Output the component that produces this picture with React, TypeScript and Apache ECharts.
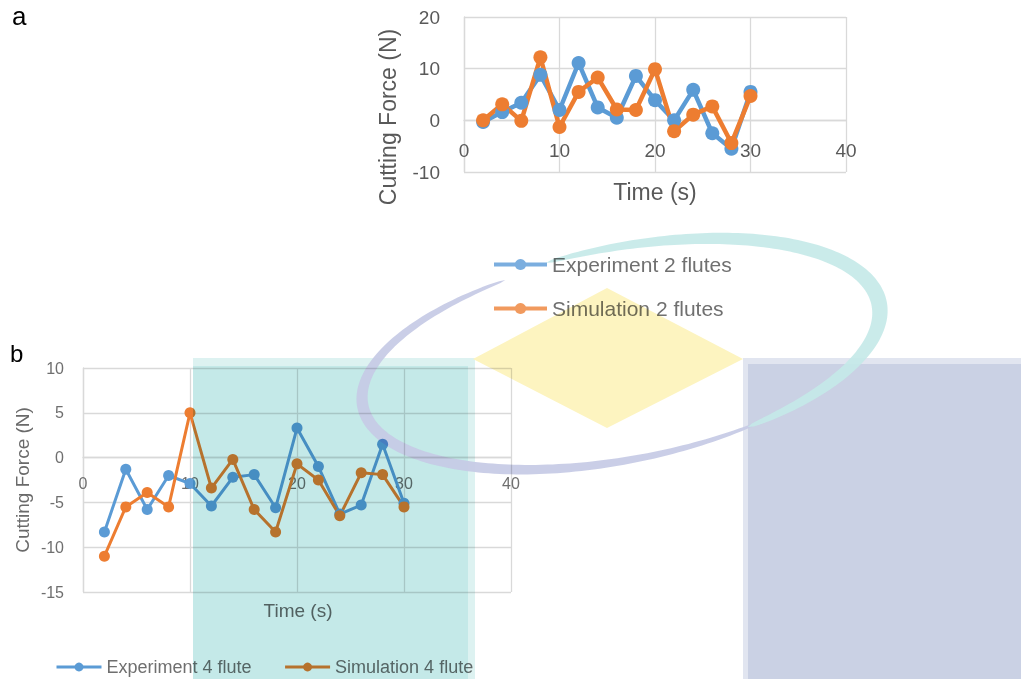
import React, { useEffect, useRef } from "react";
import * as echarts from "echarts";

// ---------- data ----------
const times = [2, 4, 6, 8, 10, 12, 14, 16, 18, 20, 22, 24, 26, 28, 30];
const exp2 = [-0.3, 1.6, 3.4, 8.8, 2.0, 11.1, 2.5, 0.5, 8.6, 3.9, 0, 5.9, -2.5, -5.5, 5.5];
const sim2 = [0, 3.1, -0.1, 12.2, -1.3, 5.5, 8.3, 2.1, 2.0, 9.9, -2.1, 1.1, 2.7, -4.4, 4.7];
const exp4 = [-8.3, -1.3, -5.8, -2.0, -2.9, -5.4, -2.2, -1.9, -5.6, 3.3, -1.0, -6.3, -5.3, 1.5, -5.1];
const sim4 = [-11.0, -5.5, -3.9, -5.5, 5.0, -3.4, -0.2, -5.8, -8.3, -0.7, -2.5, -6.5, -1.7, -1.9, -5.5];

const seriesNamesA = ["Experiment 2 flutes", "Simulation 2 flutes"];
const seriesNamesB = ["Experiment 4 flute", "Simulation 4 flute"];
const xRange = [0, 40, 10];
const yRangeA = [-10, 20, 10];
const yRangeB = [-15, 10, 5];
const yTitle = "Cutting Force (N)";
const xTitle = "Time (s)";

const FONT = "'Liberation Sans', Arial, sans-serif";
const BLUE = "#5B9BD5";
const ORANGE = "#ED7D31";
const GRID = "#D9D9D9";

const gridA = { left: 464, top: 17, width: 382, height: 155 };
const gridB = { left: 83, top: 368, width: 428, height: 224 };

const pairs = (ys: number[]) => times.map((t, i) => [t, ys[i]]);

// place the category (x) axis on the value 0 of the y axis (Excel style)
const zeroOffset = (range: number[], height: number) => (-height * (0 - range[0])) / (range[1] - range[0]);

function axisBase(fontSize: number, margin: number, color: string) {
  return {
    type: "value",
    axisLine: { show: true, onZero: false, lineStyle: { color: GRID, width: 1.3 } },
    axisTick: { show: false },
    axisLabel: { color, fontSize, margin, fontFamily: FONT },
    splitLine: { show: true, lineStyle: { color: GRID, width: 1.3 } },
  };
}

function lineSeries(name: string, ys: number[], color: string, idx: number, size: number, width: number) {
  return {
    name,
    type: "line",
    xAxisIndex: idx,
    yAxisIndex: idx,
    data: pairs(ys),
    symbol: "circle",
    symbolSize: size,
    showSymbol: true,
    lineStyle: { color, width },
    itemStyle: { color },
  };
}

const mainOption = {
  animation: false,
  grid: [gridA, gridB],
  xAxis: [
    {
      ...axisBase(19, 21, "#595959"),
      gridIndex: 0,
      position: "bottom",
      offset: zeroOffset(yRangeA, gridA.height),
      min: xRange[0],
      max: xRange[1],
      interval: xRange[2],
    },
    {
      ...axisBase(16, 18, "#6F6F6F"),
      gridIndex: 1,
      position: "bottom",
      offset: zeroOffset(yRangeB, gridB.height),
      min: xRange[0],
      max: xRange[1],
      interval: xRange[2],
    },
  ],
  yAxis: [
    { ...axisBase(19, 24, "#595959"), gridIndex: 0, min: yRangeA[0], max: yRangeA[1], interval: yRangeA[2] },
    { ...axisBase(16, 19, "#6F6F6F"), gridIndex: 1, min: yRangeB[0], max: yRangeB[1], interval: yRangeB[2] },
  ],
  legend: [
    {
      orient: "vertical",
      left: 487,
      top: 249,
      itemWidth: 53,
      itemHeight: 14,
      itemGap: 23,
      textStyle: { color: "#707070", fontSize: 21, lineHeight: 21, fontFamily: FONT },
      data: [
        { name: seriesNamesA[0], itemStyle: { color: "#7BAEDF" }, lineStyle: { color: "#7BAEDF", width: 4 } },
        { name: seriesNamesA[1], itemStyle: { color: "#F19A5E" }, lineStyle: { color: "#F19A5E", width: 4 } },
      ],
    },
    {
      orient: "horizontal",
      left: 50,
      top: 653,
      itemWidth: 45,
      itemHeight: 11,
      itemGap: 32,
      textStyle: { color: "#6F6F6F", fontSize: 18, lineHeight: 18, fontFamily: FONT },
      data: [
        { name: seriesNamesB[0], lineStyle: { width: 3 } },
        { name: seriesNamesB[1], lineStyle: { width: 3 } },
      ],
    },
  ],
  series: [
    lineSeries(seriesNamesA[0], exp2, BLUE, 0, 14, 4.5),
    lineSeries(seriesNamesA[1], sim2, ORANGE, 0, 14, 4.5),
    lineSeries(seriesNamesB[0], exp4, BLUE, 1, 11, 3),
    lineSeries(seriesNamesB[1], sim4, ORANGE, 1, 11, 3),
  ],
  graphic: {
    elements: [
      { type: "text", x: 12, y: 16, style: { text: "a", fontSize: 26, fill: "#000", fontFamily: FONT, align: "left", verticalAlign: "middle" } },
      { type: "text", x: 10, y: 353, style: { text: "b", fontSize: 24, fill: "#000", fontFamily: FONT, align: "left", verticalAlign: "middle" } },
      { type: "text", x: 388, y: 117, rotation: Math.PI / 2, style: { text: yTitle, fontSize: 23, fill: "#595959", fontFamily: FONT, align: "center", verticalAlign: "middle" } },
      { type: "text", x: 655, y: 192, style: { text: xTitle, fontSize: 23, fill: "#595959", fontFamily: FONT, align: "center", verticalAlign: "middle" } },
      { type: "text", x: 22, y: 480, rotation: Math.PI / 2, style: { text: yTitle, fontSize: 19, fill: "#6A6A6A", fontFamily: FONT, align: "center", verticalAlign: "middle" } },
      { type: "text", x: 298, y: 610, style: { text: xTitle, fontSize: 19, fill: "#6A6A6A", fontFamily: FONT, align: "center", verticalAlign: "middle" } },
    ],
  },
};

// ---------- watermark (decoration) ----------
function ringBand(cx: number, cy: number, a: number, b: number, rotDeg: number, t0: number, t1: number, tPeak: number, wPeak: number, wEnd: number) {
  const n = 140;
  const phi = (rotDeg * Math.PI) / 180;
  const c = Math.cos(phi);
  const s = Math.sin(phi);
  const outer: number[][] = [];
  const inner: number[][] = [];
  for (let i = 0; i <= n; i++) {
    const u = i / n;
    const t = ((t0 + (t1 - t0) * u) * Math.PI) / 180;
    const k = 0.5 + 0.5 * Math.cos(t - (tPeak * Math.PI) / 180);
    const taper = Math.pow(Math.sin(Math.PI * u), 0.35);
    const w = (wEnd + (wPeak - wEnd) * k) * taper;
    const pt = (A: number, B: number) => {
      const lx = A * Math.cos(t);
      const ly = -B * Math.sin(t);
      return [cx + lx * c + ly * s, cy - lx * s + ly * c];
    };
    outer.push(pt(a + w / 2, b + w / 2));
    inner.push(pt(a - w / 2, b - w / 2));
  }
  return outer.concat(inner.reverse());
}

const wmOption = {
  animation: false,
  graphic: {
    elements: [
      { type: "rect", shape: { x: 193, y: 358, width: 282, height: 321 }, style: { fill: "#DDF2F1" } },
      { type: "rect", shape: { x: 193, y: 366, width: 275, height: 313 }, style: { fill: "#C4E9E8" } },
      { type: "rect", shape: { x: 743, y: 358, width: 278, height: 321 }, style: { fill: "#E1E5F0" } },
      { type: "rect", shape: { x: 748, y: 364, width: 273, height: 315 }, style: { fill: "#CAD1E4" } },
      { type: "polygon", shape: { points: [[607, 288], [743, 359], [607, 428], [473, 359]] }, style: { fill: "#FDF4C0" } },
      { type: "polygon", shape: { points: ringBand(620, 356, 262, 104, 11, 112, 300, 195, 12, 4) }, style: { fill: "#C6CAE5", opacity: 0.92 } },
      { type: "polygon", shape: { points: ringBand(620, 354, 264, 106, 11, -65, 102, 0, 16, 7) }, style: { fill: "#C4E9E8", opacity: 0.9 } },
    ],
  },
};

export default function App() {
  const mainRef = useRef<HTMLDivElement>(null);
  const wmRef = useRef<HTMLDivElement>(null);
  useEffect(() => {
    const chart = echarts.init(mainRef.current as HTMLDivElement, null, { renderer: "svg" });
    chart.setOption(mainOption as any);
    const wm = echarts.init(wmRef.current as HTMLDivElement, null, { renderer: "svg" });
    wm.setOption(wmOption as any);
    return () => {
      chart.dispose();
      wm.dispose();
    };
  }, []);
  return (
    <div style={{ position: "fixed", left: 0, top: 0, width: 1021, height: 679, background: "#fff", overflow: "hidden", isolation: "isolate" }}>
      <div ref={mainRef} style={{ position: "absolute", left: 0, top: 0, width: 1021, height: 679 }} />
      <div ref={wmRef} style={{ position: "absolute", left: 0, top: 0, width: 1021, height: 679, mixBlendMode: "multiply", pointerEvents: "none" }} />
    </div>
  );
}
